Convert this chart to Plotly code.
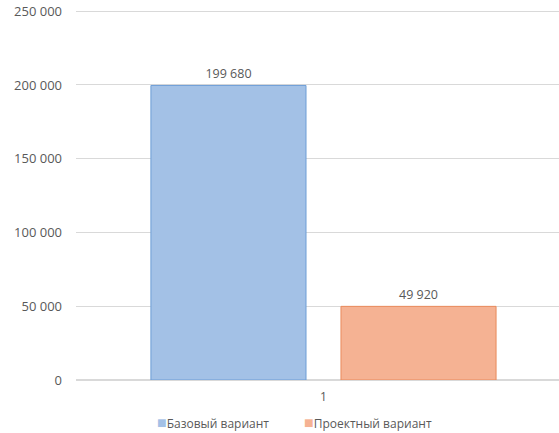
import plotly.graph_objects as go

categories = ["1"]
series_names = ["Базовый вариант", "Проектный вариант"]
base_values = [199680]
project_values = [49920]
y_ticks = [0, 50000, 100000, 150000, 200000, 250000]
y_tick_labels = ["0", "50 000", "100 000", "150 000", "200 000", "250 000"]
fill_colors = ["#a3c1e6", "#f5b293"]
line_colors = ["#6d9dd6", "#e98a5c"]

def fmt(v):
    return f"{v:,}".replace(",", " ")

fig = go.Figure()
for name, vals, fc, lc in zip(series_names, [base_values, project_values], fill_colors, line_colors):
    fig.add_trace(go.Bar(
        x=categories, y=vals, name=name,
        marker=dict(color=fc, line=dict(color=lc, width=1)),
        text=[fmt(v) for v in vals], textposition="outside",
        textfont=dict(color="#595959", size=12.5), cliponaxis=False,
        showlegend=False,
    ))

# legend drawn as text entries
legend_x = [0.164, 0.468]
for name, fc, lx in zip(series_names, fill_colors, legend_x):
    fig.add_annotation(
        xref="paper", yref="paper", x=lx, y=-0.113, xanchor="left", yanchor="middle",
        showarrow=False,
        text=f"<span style='color:{fc};font-size:16px'>■</span>{name}",
        font=dict(family="Open Sans", size=12, color="#595959"),
    )

fig.update_layout(
    width=559, height=433,
    margin=dict(l=76, r=0, t=9, b=53, autoexpand=False),
    paper_bgcolor="white", plot_bgcolor="white",
    font=dict(family="Open Sans", size=12, color="#595959"),
    barmode="group", bargap=0.213, bargroupgap=0.184,
    xaxis=dict(type="category", range=[-0.5124, 0.4876], showgrid=False, automargin=False,
               showline=False, ticks="", tickfont=dict(color="#595959", size=12),
               ticklabelstandoff=8),
    yaxis=dict(range=[0, 251500], tickvals=y_ticks, ticktext=y_tick_labels, automargin=False,
               showgrid=True, gridcolor="#d9d9d9", gridwidth=1, zeroline=True,
               zerolinecolor="#d9d9d9", showline=False, ticks="",
               ticklabeloverflow="allow",
               tickfont=dict(color="#595959", size=13), ticklabelstandoff=13),
)

fig.write_html("out.html",
               config={"displayModeBar": False},
               post_script="document.body.style.margin='0';document.body.style.overflow='hidden';")
